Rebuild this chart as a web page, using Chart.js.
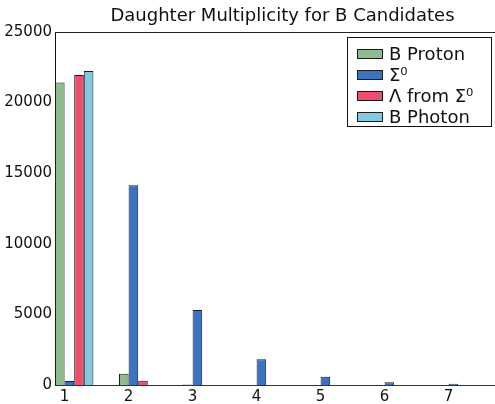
<!DOCTYPE html>
<html>
<head>
<meta charset="utf-8">
<script src="https://cdn.jsdelivr.net/npm/chart.js@4/dist/chart.umd.min.js"></script>
<style>
  html, body { margin: 0; padding: 0; background: #fff; }
  #wrap { width: 495px; height: 404px; overflow: hidden; position: relative; }
  canvas { display: block; }
</style>
</head>
<body>
<div id="wrap"><canvas id="c" width="510" height="404"></canvas></div>
<script>
// Number of daughters per B candidate
const categories = [1, 2, 3, 4, 5, 6, 7];
const yTicks = [0, 5000, 10000, 15000, 20000, 25000];

// Counts for each daughter type
const bProton      = [21420,   790,   30,    0,   0,   0,  0];
const sigma0       = [  280, 14150, 5310, 1820, 590, 200, 80];
const lambdaSigma0 = [21960,   300,    0,    0,   0,   0,  0];
const bPhoton      = [22240,     0,    0,    0,   0,   0,  0];

const seriesLabels = ['B Proton', 'Σ⁰', 'Λ from Σ⁰', 'B Photon'];
const seriesValues = [bProton, sigma0, lambdaSigma0, bPhoton];
const seriesColors = ['#8fbc8f', '#3c73c0', '#ee4d6c', '#83c9e0'];

const FONT = 'DejaVu Sans';

const datasets = seriesValues.map((vals, i) => ({
  label: seriesLabels[i],
  data: categories.map((c, j) => ({ x: c, y: vals[j] })),
  backgroundColor: seriesColors[i],
  borderColor: '#1c1c1c',
  borderWidth: 1,
  categoryPercentage: 0.6,
  barPercentage: 1.0
}));

// Frame along the top edge of the plotting area
const framePlugin = {
  id: 'frame',
  afterDraw(chart) {
    const { ctx, chartArea: a } = chart;
    ctx.save();
    ctx.strokeStyle = '#222';
    ctx.lineWidth = 1;
    ctx.beginPath();
    ctx.moveTo(a.left, a.top + 0.5);
    ctx.lineTo(a.right, a.top + 0.5);
    ctx.stroke();
    ctx.restore();
  }
};

// Boxed legend in the upper right of the plot
const boxLegend = {
  id: 'boxLegend',
  afterDraw(chart) {
    const { ctx } = chart;
    const box = { x: 347.5, y: 37.5, w: 144, h: 89 };
    ctx.save();
    ctx.fillStyle = '#fff';
    ctx.fillRect(box.x, box.y, box.w, box.h);
    ctx.strokeStyle = '#111';
    ctx.lineWidth = 1;
    ctx.strokeRect(box.x, box.y, box.w, box.h);
    ctx.font = '18px "' + FONT + '"';
    ctx.textBaseline = 'middle';
    ctx.textAlign = 'left';
    chart.data.datasets.forEach((ds, i) => {
      const cy = 54 + i * 21;
      ctx.fillStyle = ds.backgroundColor;
      ctx.fillRect(357, cy - 4.5, 26, 9);
      ctx.strokeStyle = ds.borderColor;
      ctx.strokeRect(357.5, cy - 4.5, 25, 9);
      ctx.fillStyle = '#111';
      ctx.fillText(ds.label, 389, cy + 1);
    });
    ctx.restore();
  }
};

new Chart(document.getElementById('c'), {
  type: 'bar',
  data: { datasets },
  plugins: [framePlugin, boxLegend],
  options: {
    responsive: false,
    animation: false,
    devicePixelRatio: 1,
    layout: { padding: 0 },
    plugins: {
      legend: { display: false },
      tooltip: { enabled: false },
      title: {
        display: true,
        fullSize: false,
        text: 'Daughter Multiplicity for B Candidates',
        color: '#111',
        font: { family: FONT, size: 18, weight: 'normal' },
        padding: { top: 6, bottom: 4.4 }
      }
    },
    scales: {
      x: {
        type: 'linear',
        offset: false,
        min: 0.7,
        max: 7.81,
        grid: { display: false, drawTicks: false, offset: false },
        border: { display: true, color: '#333', width: 1 },
        afterBuildTicks: s => { s.ticks = categories.map(v => ({ value: v })); },
        afterFit: s => { s.height = 19; },
        ticks: {
          color: '#111',
          font: { family: FONT, size: 15 },
          padding: 3,
          labelOffset: -9.6,
          maxRotation: 0,
          autoSkip: false,
          callback: v => String(v)
        }
      },
      y: {
        min: 0,
        max: 25000,
        grid: { display: false, drawTicks: false },
        border: { display: true, color: '#111', width: 1 },
        afterBuildTicks: s => { s.ticks = yTicks.map(v => ({ value: v })); },
        afterFit: s => { s.width = 55; },
        ticks: {
          color: '#111',
          font: { family: FONT, size: 15 },
          padding: 3,
          callback: v => String(v)
        }
      }
    }
  }
});
</script>
</body>
</html>
